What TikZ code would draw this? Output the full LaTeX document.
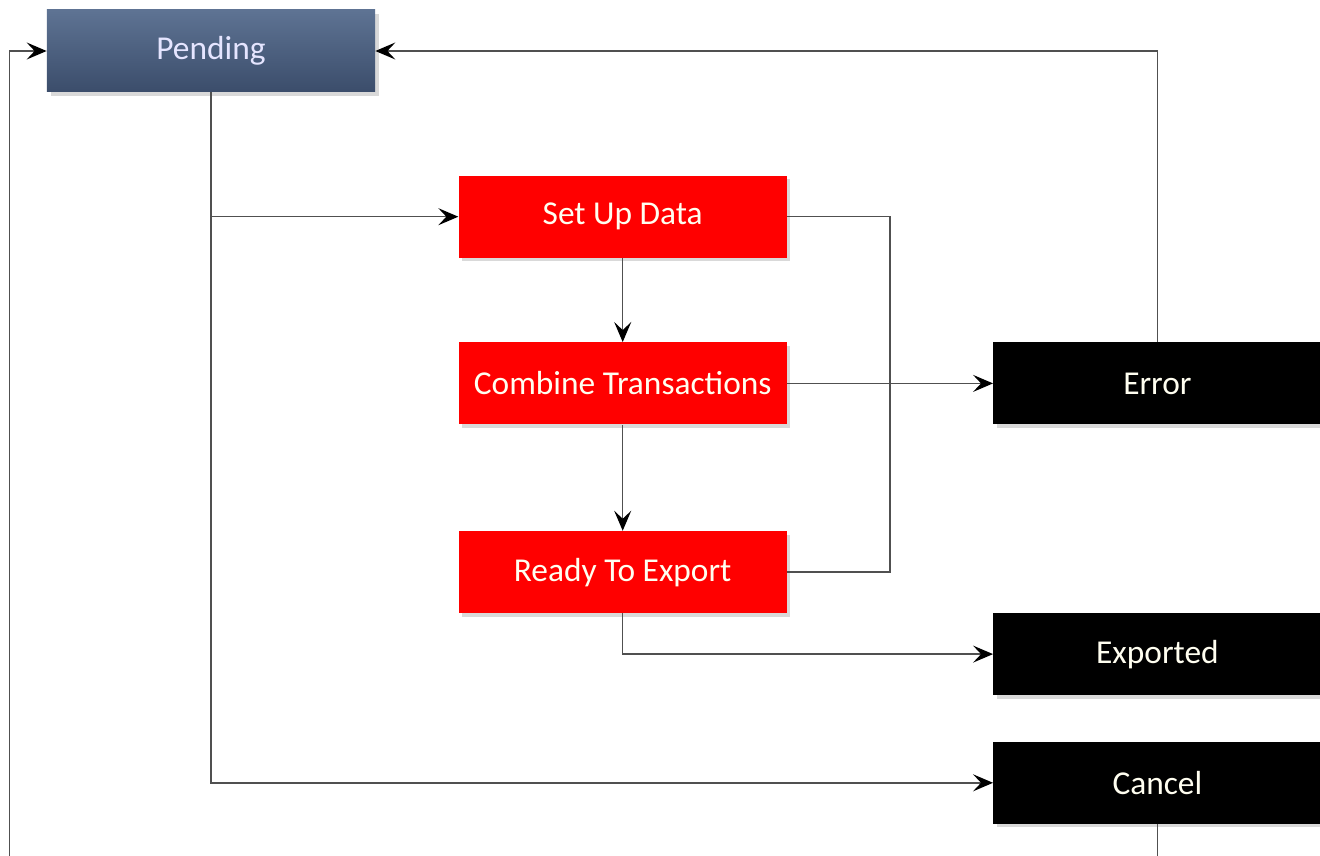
\documentclass[tikz,border=0pt]{standalone}
\usepackage{fontspec}
\setmainfont{Carlito}
\usepackage{xcolor}
\usepackage{tikz}
\usetikzlibrary{arrows.meta, positioning, calc, shadows}
\definecolor{slatetop}{HTML}{5E7393}
\definecolor{slatebot}{HTML}{3B4D6B}
\definecolor{boxred}{HTML}{FF0000}
\definecolor{linegray}{HTML}{505050}

\begin{document}
\begin{tikzpicture}[
        box/.style={rectangle, minimum width=6.56cm, minimum height=1.64cm, align=center, font=\fontsize{19}{22}\selectfont, text=white!94!yellow, drop shadow={opacity=0.3, shadow xshift=2pt, shadow yshift=-2pt}},
        pend/.style={box, top color=slatetop, bottom color=slatebot, text=white!90!blue},
        work/.style={box, fill=boxred},
        final/.style={box, fill=black},
        arrow/.style={-{Stealth[length=4mm, width=3.4mm, inset=1.6mm, color=black]}, line width=0.9pt, draw=linegray},
        line/.style={line width=0.9pt, draw=linegray}
    ]
        \useasboundingbox (-4.22,1.02) rectangle (22.18,-16.10);

        % STATES
        \node[pend] (pending) at (0,0) {Pending};
        \node[work] (setup) [below right=1.66cm and 1.66cm of pending] {Set Up Data};
        \node[work] (combine) [below=1.68cm of setup] {Combine Transactions};
        \node[work] (ready) [below=2.12cm of combine] {Ready To Export};
        \node[final] (error) [right=4.12cm of combine] {Error};
        \node[final] (exported) [below=3.76cm of error] {Exported};
        \node[final] (cancel) [below=0.92cm of exported] {Cancel};

        \coordinate (back) at ($(pending.west)+(-0.74,0)$);

        % ARROWS
        \draw[arrow] (pending.south) |- (cancel.west);
        \draw[arrow] (pending.south |- setup.west) -- (setup.west);
        \draw[arrow] (setup.south) -- (combine.north);
        \draw[arrow] (combine.south) -- (ready.north);
        \draw[line] (setup.east) -- ++(2.06,0) |- (ready.east);
        \draw[arrow] (combine.east) -- (error.west);
        \draw[arrow] (ready.south) |- (exported.west);
        \draw[arrow] (error.north) |- (pending.east);
        \draw[arrow] (cancel.south) -- ++(0,-0.9) -| (back) -- (pending.west);
    \end{tikzpicture}
\end{document}
